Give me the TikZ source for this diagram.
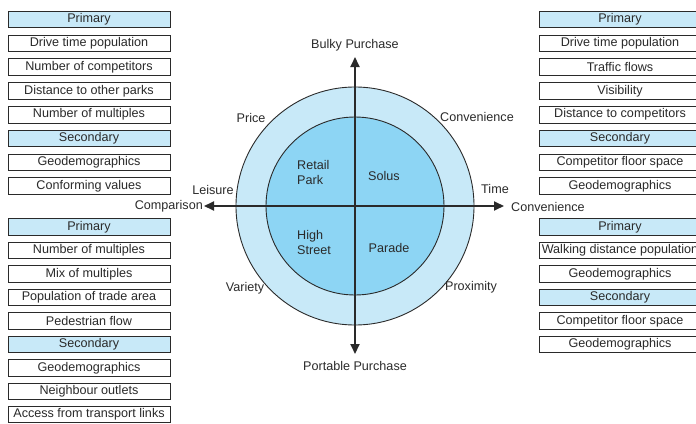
\documentclass[tikz,border=0pt]{standalone}
\usepackage{fontspec}
\setmainfont{Liberation Sans}
\usetikzlibrary{arrows.meta}
\definecolor{ring}{HTML}{C8E9F8}
\definecolor{core}{HTML}{8DD5F4}
\definecolor{hdr}{HTML}{C8E9F8}
\definecolor{ink}{HTML}{2A2A2A}
\begin{document}
\begin{tikzpicture}[x=1pt,y=-1pt,
  every node/.style={font=\fontsize{12.6}{14.5}\selectfont, text=ink},
  itembox/.style={draw=ink, line width=0.9pt, fill=white, minimum width=162pt, minimum height=16.5pt, inner sep=0pt},
  headbox/.style={itembox, fill=hdr},
  axisline/.style={line width=1.9pt, draw=ink, {Triangle[length=10pt,width=9pt]}-{Triangle[length=10pt,width=9pt]}},
  lbl/.style={inner sep=0pt}
]
\useasboundingbox (0,0) rectangle (696,423);
% circles
\fill[ring] (355,206) circle (119pt);
\draw[ink, line width=0.9pt] (355,206) circle (119pt);
\fill[core] (355,206) circle (89pt);
\draw[ink, line width=0.9pt] (355,206) circle (89pt);
% axes
\coordinate (top) at (355,57);
\coordinate (bot) at (355,354);
\coordinate (lft) at (204,206);
\coordinate (rgt) at (504,206);
\draw[axisline] (bot) -- (top);
\draw[axisline] (lft) -- (rgt);
% axis labels
\node[lbl] (bulky) at (355,45.5) {Bulky Purchase};
\node[lbl] (port) at (355,365.5) {Portable Purchase};
\node[lbl, anchor=east] (comp) at (203,206.5) {Comparison};
\node[lbl, anchor=west] (conv) at (511,206.5) {Convenience};
\node[lbl] (leis) at (213,189.5) {Leisure};
\node[lbl] (time) at (495,188.5) {Time};
\node[lbl] (price) at (251,117.5) {Price};
\node[lbl] (conv2) at (477,116.5) {Convenience};
\node[lbl] (var) at (245,288.5) {Variety};
\node[lbl] (prox) at (471,287.5) {Proximity};
% quadrant labels
\node[lbl, anchor=west, align=left] (rp) at (297,172.5) {Retail\\Park};
\node[lbl] (solus) at (384,175.5) {Solus};
\node[lbl, anchor=west, align=left] (hs) at (297,242.5) {High\\Street};
\node[lbl] (parade) at (389,247.5) {Parade};
% left group 1
\node[headbox] (a1) at (89,19.5) {Primary};
\node[itembox] (a2) at (89,43.3) {Drive time population};
\node[itembox] (a3) at (89,67.1) {Number of competitors};
\node[itembox] (a4) at (89,90.9) {Distance to other parks};
\node[itembox] (a5) at (89,114.7) {Number of multiples};
\node[headbox] (a6) at (89,138.5) {Secondary};
\node[itembox] (a7) at (89,162.3) {Geodemographics};
\node[itembox] (a8) at (89,186.1) {Conforming values};
% left group 2
\node[headbox] (b1) at (89,227) {Primary};
\node[itembox] (b2) at (89,250.5) {Number of multiples};
\node[itembox] (b3) at (89,274) {Mix of multiples};
\node[itembox] (b4) at (89,297.5) {Population of trade area};
\node[itembox] (b5) at (89,321) {Pedestrian flow};
\node[headbox] (b6) at (89,344.5) {Secondary};
\node[itembox] (b7) at (89,368) {Geodemographics};
\node[itembox] (b8) at (89,391.5) {Neighbour outlets};
\node[itembox] (b9) at (89,414.5) {Access from transport links};
% right group 1
\node[headbox] (c1) at (620,19.5) {Primary};
\node[itembox] (c2) at (620,43.3) {Drive time population};
\node[itembox] (c3) at (620,67.1) {Traffic flows};
\node[itembox] (c4) at (620,90.9) {Visibility};
\node[itembox] (c5) at (620,114.7) {Distance to competitors};
\node[headbox] (c6) at (620,138.5) {Secondary};
\node[itembox] (c7) at (620,162.3) {Competitor floor space};
\node[itembox] (c8) at (620,186.1) {Geodemographics};
% right group 2
\node[headbox] (d1) at (620,227) {Primary};
\node[itembox] (d2) at (620,250.5) {Walking distance population};
\node[itembox] (d3) at (620,274) {Geodemographics};
\node[headbox] (d4) at (620,297.5) {Secondary};
\node[itembox] (d5) at (620,321) {Competitor floor space};
\node[itembox] (d6) at (620,344.5) {Geodemographics};
\end{tikzpicture}
\end{document}
